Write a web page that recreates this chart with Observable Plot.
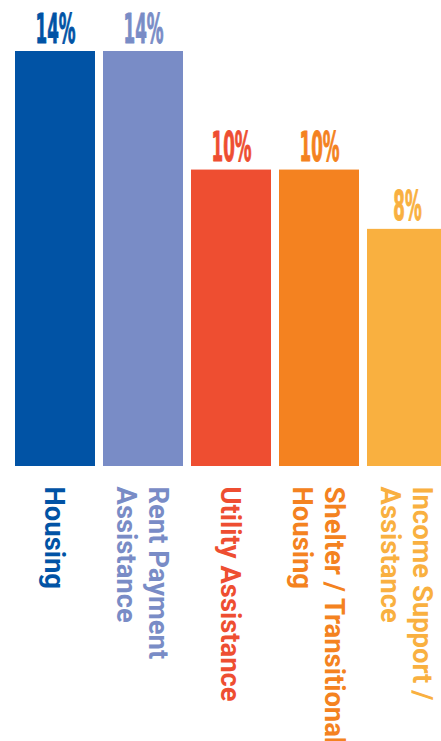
<!DOCTYPE html>
<html><head><meta charset="utf-8">
<script src="https://cdn.jsdelivr.net/npm/d3@7"></script>
<script src="https://cdn.jsdelivr.net/npm/@observablehq/plot@0.6"></script>
<style>
body{margin:0;background:#fff;}
#chart{width:441px;height:741px;overflow:hidden;}
</style>
</head><body><div id="chart"></div>
<script>
const categories = ["Housing", "Rent Payment\nAssistance", "Utility Assistance", "Shelter / Transitional\nHousing", "Income Support /\nAssistance"];
const values = [14, 14, 10, 10, 8];
const valueLabels = ["14%", "14%", "10%", "10%", "8%"];
const colors = ["#0153a5", "#798cc6", "#ee4e31", "#f48220", "#f9b040"];

const data = categories.map((c, i) => ({category: c, value: values[i], label: valueLabels[i], color: colors[i]}));

const plot = Plot.plot({
  width: 441,
  height: 741,
  marginTop: 0, marginRight: 0, marginBottom: 0, marginLeft: 0,
  style: {background: "white", overflow: "hidden"},
  x: {domain: categories, range: [9.75, 452.25], paddingInner: 0.096, paddingOuter: 0.048, axis: null},
  y: {domain: [0, 14], range: [466, 51], axis: null},
  color: {type: "identity"},
  marks: [
    Plot.barY(data, {x: "category", y: "value", fill: "color"}),
    Plot.text(data, {
      x: "category", y: "value", text: "label", fill: "color", stroke: "color", strokeWidth: 1,
      lineAnchor: "bottom", dy: -9,
      fontSize: 41, fontWeight: "bold",
      fontFamily: "'Liberation Sans Narrow', 'DejaVu Sans Condensed', 'DejaVu Sans', sans-serif"
    }),
    Plot.text(data, {
      x: "category", y: 0, text: "category", fill: "color",
      rotate: 90, textAnchor: "start", lineAnchor: "middle", dy: 20,
      fontSize: 27.4, fontWeight: "bold", fontFamily: "Roboto, sans-serif", lineHeight: 1.17
    })
  ]
});
document.getElementById("chart").appendChild(plot);

// compress value labels horizontally to mimic the condensed display face
const groups = plot.querySelectorAll('g[aria-label="text"]');
const valTexts = groups[0].querySelectorAll("text");
const w0 = valTexts[0].getComputedTextLength();
const k = 40 / w0;
valTexts.forEach(t => {
  const w = t.getComputedTextLength();
  t.setAttribute("textLength", w * k);
  t.setAttribute("lengthAdjust", "spacingAndGlyphs");
});
</script>
</body></html>
